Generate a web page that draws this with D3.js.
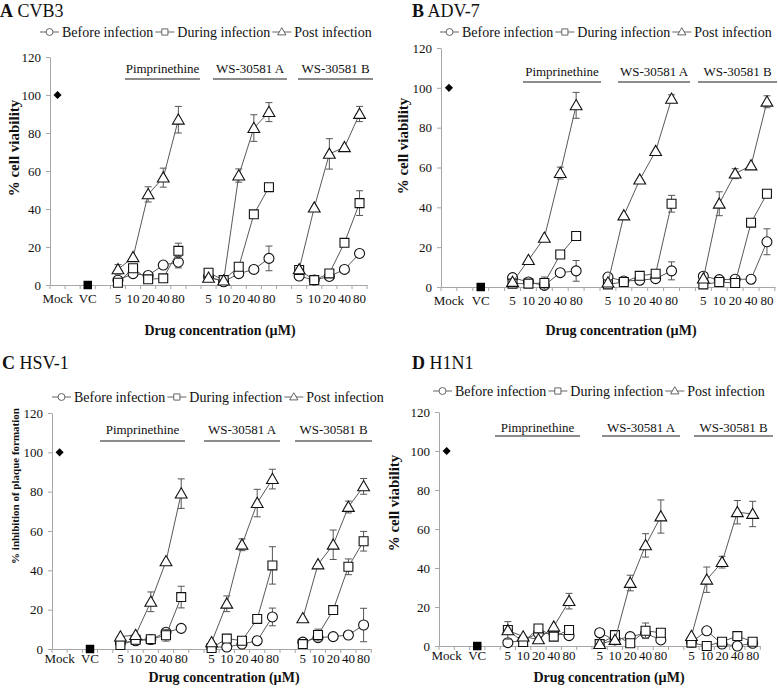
<!DOCTYPE html>
<html>
<head>
<meta charset="utf-8">
<script src="https://cdn.jsdelivr.net/npm/d3@7"></script>
<style>
  html, body { margin: 0; padding: 0; background: #fff; }
  svg { display: block; }
</style>
</head>
<body>
<svg id="chart" width="778" height="691"></svg>
<script>
// ---------------- DATA ----------------
const xLabels = ["Mock", "", "VC", "", "5", "10", "20", "40", "80", "", "5", "10", "20", "40", "80", "", "5", "10", "20", "40", "80"];
const drugs = ["Pimprinethine", "WS-30581 A", "WS-30581 B"];
const concentrations = ["5", "10", "20", "40", "80"];
const seriesNames = ["Before infection", "During infection", "Post infection"];
const yTicks = [0, 20, 40, 60, 80, 100, 120];
const mockValue = 100;
const vcValue = 0;

// Panel A: CVB3 (15 values = 3 drugs x 5 concentrations)
const aBefore     = [2.5, 6, 5, 10.5, 12, 4.4, 1.7, 6, 8.2, 14, 4.7, 2.6, 4.5, 8.2, 16.6];
const aBeforeErr  = [0, 0, 0, 0, 3, 0, 0, 0, 0, 6.5, 0, 0, 0, 0, 2];
const aDuring     = [1.2, 8.8, 3, 3.5, 18, 6.5, 2.6, 9.6, 37.2, 51.5, 7.9, 2.6, 6.1, 22.2, 43.1];
const aDuringErr  = [0, 0, 0, 0, 4, 0, 0, 0, 0, 1.5, 0, 0, 0, 0, 6.5];
const aPost       = [8.2, 14.6, 47.7, 56.5, 87, 3.8, 2.3, 57.6, 82.6, 91, 8.2, 40.7, 69, 72.5, 90];
const aPostErr    = [2.5, 0, 4, 5, 7, 0, 0, 3.5, 7, 5, 0, 0, 8, 0, 4];

// Panel B: ADV-7
const bBefore     = [4.7, 2.5, 0.8, 7.2, 8.1, 5, 3, 3.4, 4.2, 8.1, 5.4, 3.7, 3.9, 3.9, 22.7];
const bBeforeErr  = [0, 0, 0, 0, 5.2, 0, 0, 0, 0, 4.5, 0, 0, 0, 0, 6.5];
const bDuring     = [1.7, 1.7, 2, 16.3, 25.6, 1.3, 2.5, 5.6, 6.7, 41.8, 1.3, 2.5, 2, 32.3, 46.8];
const bDuringErr  = [0, 0, 3, 0, 0, 0, 0, 0, 0, 4.2, 0, 0, 0, 0, 0];
const bPost       = [2.5, 13.5, 24.7, 57.2, 91.2, 2.2, 35.9, 53.9, 68.2, 94.5, 4.2, 41.8, 56.9, 61, 93];
const bPostErr    = [0, 0, 0, 3, 6.5, 0, 0, 0, 0, 2, 0, 6, 2.5, 0, 3];

// Panel C: HSV-1
const cBefore     = [3, 4.2, 4.8, 8.5, 10.5, 1, 1, 2.5, 4.2, 16.3, 3.5, 5.8, 6.3, 7.1, 12.2];
const cBeforeErr  = [0, 0, 0, 0, 0, 0, 0, 0, 0, 4.5, 0, 0, 0, 0, 8.5];
const cDuring     = [2, 4.7, 5, 7, 26.4, 0.5, 5.3, 4.2, 15.3, 42.5, 2.5, 7.1, 19.8, 41.8, 54.8];
const cDuringErr  = [0, 0, 0, 3, 5.5, 0, 0, 0, 0, 9.5, 0, 3, 0, 4, 5];
const cPost       = [6.3, 7.1, 24, 44.6, 79, 3.4, 23, 53, 74.2, 86.4, 15.6, 43, 53, 72.2, 82.7];
const cPostErr    = [0, 0, 5, 0, 7.5, 0, 4, 3, 7, 5, 0, 0, 7.5, 3, 4];

// Panel D: H1N1
const dBefore     = [1.7, 3, 6.5, 6.5, 5.3, 6.8, 3.1, 4.8, 6.5, 3.1, 2, 7.8, 1, 0, 1.4];
const dBeforeErr  = [0, 0, 0, 0, 0, 0, 0, 0, 0, 0, 0, 0, 0, 0, 0];
const dDuring     = [8.2, 2, 9, 4.8, 8.2, 1, 5.6, 1.4, 7.8, 6.8, 1.7, 0, 2.2, 5.1, 2.2];
const dDuringErr  = [0, 0, 2, 0, 2, 0, 0, 0, 4, 0, 0, 0, 0, 0, 0];
const dPost       = [8, 4.8, 3.4, 9.9, 23, 1, 3.1, 32.3, 51.6, 66.4, 5.1, 34, 43, 68.6, 67.7];
const dPostErr    = [4.5, 0, 0, 0, 4, 0, 0, 4, 6, 8.5, 0, 6.5, 3, 6, 6.5];

// ---------------- LAYOUT ----------------
const serif = "'Liberation Serif', 'Times New Roman', serif";
const panels = [
  { letter: "A", name: "CVB3", yTitle: "% cell viability",
    series: [[aBefore, aBeforeErr], [aDuring, aDuringErr], [aPost, aPostErr]],
    L: { ax: 50, step: 15.1, y0: 285, yTop: 57, titleX: 0, titleY: 17, legX: 40, legY: 32, legFont: 14,
         grpLineY: 79, grpTextY: 73, grp: [[125, 200], [213, 287], [298, 373]], tickPad: 9,
         xtX: 220, xtY: 335, ytX: 14, ytY: 148, ytSize: 15 } },
  { letter: "B", name: "ADV-7", yTitle: "% cell viability",
    series: [[bBefore, bBeforeErr], [bDuring, bDuringErr], [bPost, bPostErr]],
    L: { ax: 441, step: 15.9, y0: 287, yTop: 48, titleX: 412, titleY: 17, legX: 440, legY: 32, legFont: 14,
         grpLineY: 82, grpTextY: 76, grp: [[523, 601], [618, 690], [698, 777]], tickPad: 9,
         xtX: 621, xtY: 335, ytX: 403, ytY: 146, ytSize: 15 } },
  { letter: "C", name: "HSV-1", yTitle: "% inhibition of plaque formation",
    series: [[cBefore, cBeforeErr], [cDuring, cDuringErr], [cPost, cPostErr]],
    L: { ax: 52, step: 15.2, y0: 649, yTop: 413, titleX: 2, titleY: 369, legX: 52, legY: 397, legFont: 14,
         grpLineY: 441, grpTextY: 434, grp: [[100, 185], [204, 280], [295, 372]], tickPad: 5,
         xtX: 224, xtY: 682, ytX: 15, ytY: 486, ytSize: 11 } },
  { letter: "D", name: "H1N1", yTitle: "% cell viability",
    series: [[dBefore, dBeforeErr], [dDuring, dDuringErr], [dPost, dPostErr]],
    L: { ax: 439, step: 15.3, y0: 646, yTop: 412, titleX: 412, titleY: 369, legX: 433, legY: 391, legFont: 14,
         grpLineY: 436, grpTextY: 432, grp: [[495, 580], [602, 680], [694, 773]], tickPad: 5,
         xtX: 609, xtY: 682, ytX: 394, ytY: 503, ytSize: 15 } }
];

const svg = d3.select("#chart");
const axisGray = "#a6a6a6";
const lineGray = "#595959";

const symbolFor = [d3.symbolCircle, d3.symbolSquare, d3.symbolTriangle];
const symbolSize = [78, 80, 60];

function drawPanel(p) {
  const L = p.L;
  const g = svg.append("g");
  const x = d3.scaleBand().domain(d3.range(xLabels.length))
    .range([L.ax, L.ax + L.step * xLabels.length]).padding(0);
  const y = d3.scaleLinear().domain([0, 120]).range([L.y0, L.yTop]);
  const cx = i => x(i) + x.bandwidth() / 2;

  // Y axis
  const ya = g.append("g").attr("transform", `translate(${L.ax},0)`)
    .call(d3.axisLeft(y).tickValues(yTicks).tickSize(4).tickSizeOuter(0).tickPadding(5));
  ya.select(".domain").attr("stroke", axisGray);
  ya.selectAll(".tick line").attr("stroke", axisGray);
  ya.selectAll(".tick text").attr("font-family", serif).attr("font-size", 13).attr("fill", "#111");

  // X axis
  const xa = g.append("g").attr("transform", `translate(0,${L.y0})`)
    .call(d3.axisBottom(x).tickFormat(i => xLabels[i]).tickSize(0).tickSizeOuter(0).tickPadding(L.tickPad));
  xa.select(".domain").attr("stroke", axisGray);
  xa.selectAll(".tick text").attr("font-family", serif).attr("font-size", 13).attr("fill", "#111");
  // tick marks at category boundaries
  const bounds = d3.range(xLabels.length).map(i => x(i)).concat([x.range()[1]]);
  xa.selectAll("line.bnd").data(bounds).join("line").attr("class", "bnd")
    .attr("x1", d => d).attr("x2", d => d).attr("y1", 0).attr("y2", 4)
    .attr("stroke", axisGray);

  // Group labels
  drugs.forEach((dname, k) => {
    const [a, b] = L.grp[k];
    g.append("line").attr("x1", a).attr("x2", b).attr("y1", L.grpLineY).attr("y2", L.grpLineY)
      .attr("stroke", "#8c8c8c").attr("stroke-width", 2.2);
    g.append("text").attr("x", (a + b) / 2).attr("y", L.grpTextY).attr("text-anchor", "middle")
      .attr("font-family", serif).attr("font-size", 13).attr("fill", "#111").text(dname);
  });

  // Mock & VC
  const mockIdx = xLabels.indexOf("Mock");
  const vcIdx = xLabels.indexOf("VC");
  g.append("path").attr("d", d3.symbol(d3.symbolDiamond2, 42)())
    .attr("transform", `translate(${cx(mockIdx)},${y(mockValue)})`).attr("fill", "#000");
  g.append("path").attr("d", d3.symbol(d3.symbolSquare, 72)())
    .attr("transform", `translate(${cx(vcIdx)},${y(vcValue)})`).attr("fill", "#000");

  // Series
  const line = d3.line().x(d => cx(d.i)).y(d => y(d.v));
  p.series.forEach(([vals, errs], s) => {
    const pts = vals.map((v, j) => ({
      i: 4 + Math.floor(j / concentrations.length) * 6 + (j % concentrations.length),
      v, e: errs[j], grp: Math.floor(j / concentrations.length)
    }));
    const sg = g.append("g");
    // error bars
    pts.filter(d => d.e > 0).forEach(d => {
      const X = cx(d.i);
      sg.append("line").attr("x1", X).attr("x2", X).attr("y1", y(d.v - d.e)).attr("y2", y(d.v + d.e))
        .attr("stroke", "#555").attr("stroke-width", 1);
      [d.v - d.e, d.v + d.e].forEach(t => {
        sg.append("line").attr("x1", X - 3.5).attr("x2", X + 3.5).attr("y1", y(t)).attr("y2", y(t))
          .attr("stroke", "#555").attr("stroke-width", 1);
      });
    });
    // lines per drug group
    drugs.forEach((_, k) => {
      sg.append("path").datum(pts.filter(d => d.grp === k)).attr("d", line)
        .attr("fill", "none").attr("stroke", lineGray).attr("stroke-width", 1);
    });
    // markers
    sg.selectAll("path.mk").data(pts).join("path").attr("class", "mk")
      .attr("d", d3.symbol(symbolFor[s], symbolSize[s])())
      .attr("transform", d => `translate(${cx(d.i)},${y(d.v) + (s === 2 ? 1 : 0)})`)
      .attr("fill", "#fff").attr("stroke", "#111").attr("stroke-width", 1.1);
  });

  // Title
  const t = g.append("text").attr("x", L.titleX).attr("y", L.titleY)
    .attr("font-family", serif).attr("font-size", 18).attr("fill", "#111");
  t.append("tspan").attr("font-weight", "bold").text(p.letter);
  t.append("tspan").text(" " + p.name);

  // Legend
  let lx = L.legX;
  seriesNames.forEach((nm, s) => {
    g.append("line").attr("x1", lx).attr("x2", lx + 19).attr("y1", L.legY).attr("y2", L.legY)
      .attr("stroke", "#666").attr("stroke-width", 1);
    g.append("path").attr("d", d3.symbol(symbolFor[s], s === 2 ? 30 : 38)())
      .attr("transform", `translate(${lx + 9.5},${L.legY + (s === 2 ? 0.5 : 0)})`)
      .attr("fill", "#fff").attr("stroke", "#555").attr("stroke-width", 0.9);
    const tx = g.append("text").attr("x", lx + 22).attr("y", L.legY + 5)
      .attr("font-family", serif).attr("font-size", L.legFont).attr("fill", "#111").text(nm);
    lx = lx + 22 + tx.node().getComputedTextLength() + 2;
  });

  // Axis titles
  g.append("text").attr("x", L.xtX).attr("y", L.xtY).attr("text-anchor", "middle")
    .attr("font-family", serif).attr("font-weight", "bold").attr("font-size", 14).attr("fill", "#111")
    .text("Drug concentration (\u00b5M)");
  g.append("text").attr("transform", `translate(${L.ytX},${L.ytY}) rotate(-90)`)
    .attr("text-anchor", "middle").attr("dy", "0.35em")
    .attr("font-family", serif).attr("font-weight", "bold").attr("font-size", L.ytSize).attr("fill", "#111")
    .text(p.yTitle);
}

panels.forEach(drawPanel);
</script>
</body>
</html>
